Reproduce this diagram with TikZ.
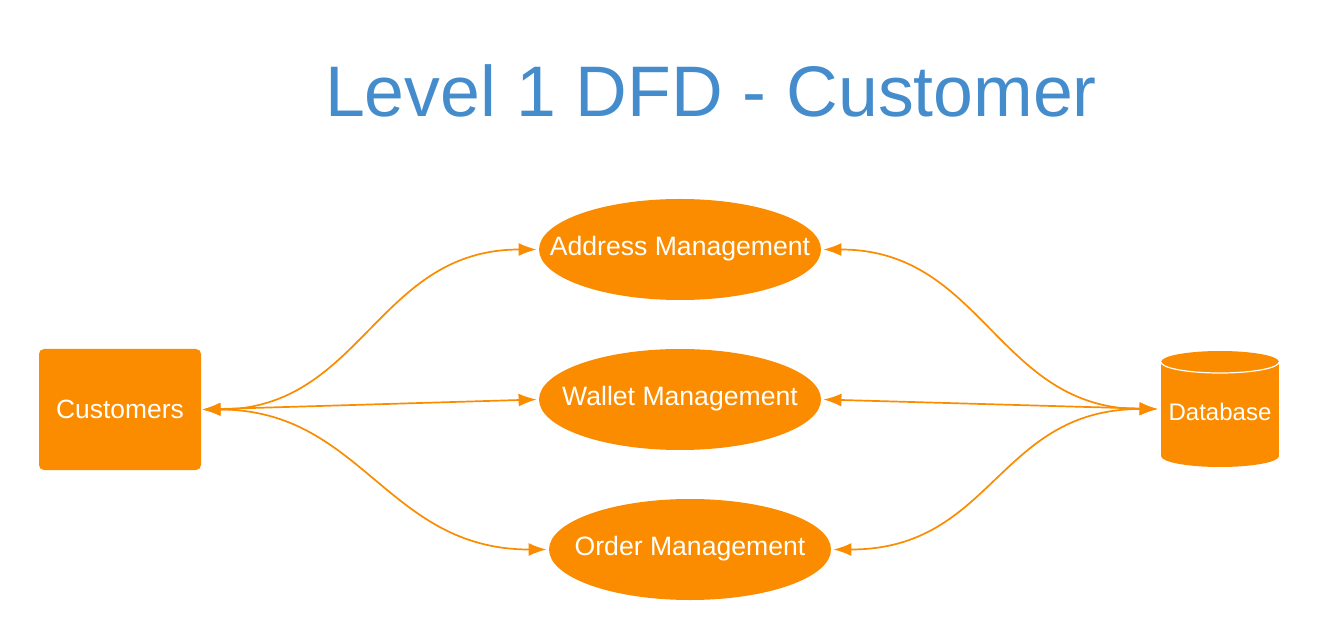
\documentclass[tikz,border=0pt]{standalone}
\usepackage{fontspec}
\setmainfont{Liberation Sans}
\usetikzlibrary{shapes.geometric,arrows.meta}
\definecolor{org}{RGB}{251,140,0}
\definecolor{ttl}{RGB}{68,140,204}
\begin{document}
\begin{tikzpicture}[x=0.5pt,y=-0.5pt,
  proc/.style={ellipse,fill=org,draw=none,inner sep=0pt,minimum width=141pt,minimum height=50.5pt},
  lbl/.style={text=white,font=\fontsize{13.3}{15}\selectfont,inner sep=0pt},
  ent/.style={rectangle,fill=org,draw=none,rounded corners=2.5pt,minimum width=81pt,minimum height=60.5pt,inner sep=0pt,text=white,font=\fontsize{13.2}{15}\selectfont},
  flow/.style={draw=org,line width=0.85pt,{Latex[length=9pt,width=6.5pt]}-{Latex[length=9pt,width=6.5pt]}}]
\useasboundingbox (0,0) rectangle (1320,640);
\node[anchor=base,text=ttl,font=\fontsize{35.8}{40}\selectfont,inner sep=0pt] (title) at (711,116.5) {Level 1 DFD - Customer};
% entity
\node[ent] (cust) at (120,409.5) {Customers};
% processes
\node[proc] (addr) at (680,249.5) {};
\node[lbl] (addrl) at ([yshift=0.5pt]addr) {Address Management};
\node[proc] (wal) at (680,399.5) {};
\node[lbl] (wall) at ([yshift=0.5pt]wal) {Wallet Management};
\node[proc] (ord) at (690,549.5) {};
\node[lbl] (ordl) at ([yshift=0.5pt]ord) {Order Management};
% database
\node[rectangle,draw=none,minimum width=59pt,minimum height=58pt,inner sep=0pt] (db) at (1220,409) {};
\fill[org] (1161,362) rectangle (1279,456);
\fill[org] (1220,456) ellipse[x radius=29.5pt,y radius=5.5pt];
\fill[org] (1220,362) ellipse[x radius=29.5pt,y radius=5.5pt];
\draw[white,line width=0.6pt] (1161,362) arc[start angle=180,end angle=360,x radius=29.5pt,y radius=5.5pt];
\node[lbl,font=\fontsize{12}{14}\selectfont] (dbl) at (1220,412) {Database};
% coordinates for arrow ends
\coordinate (c0) at ([xshift=0.5pt]cust.east);
\coordinate (d0) at ([xshift=-1.5pt]db.west);
\coordinate (a1) at ([xshift=-1pt]addr.west);
\coordinate (a2) at ([xshift=1pt]addr.east);
\coordinate (w1) at ([xshift=-1pt]wal.west);
\coordinate (w2) at ([xshift=1pt]wal.east);
\coordinate (o1) at ([xshift=-1pt]ord.west);
\coordinate (o2) at ([xshift=1pt]ord.east);
% flows
\draw[flow] (c0) .. controls +(160,0) and +(-160,0) .. (a1);
\draw[flow] (c0) -- (w1);
\draw[flow] (c0) .. controls +(160,0) and +(-160,0) .. (o1);
\draw[flow] (d0) .. controls +(-160,0) and +(160,0) .. (a2);
\draw[flow] (d0) -- (w2);
\draw[flow] (d0) .. controls +(-160,0) and +(160,0) .. (o2);
\end{tikzpicture}
\end{document}
